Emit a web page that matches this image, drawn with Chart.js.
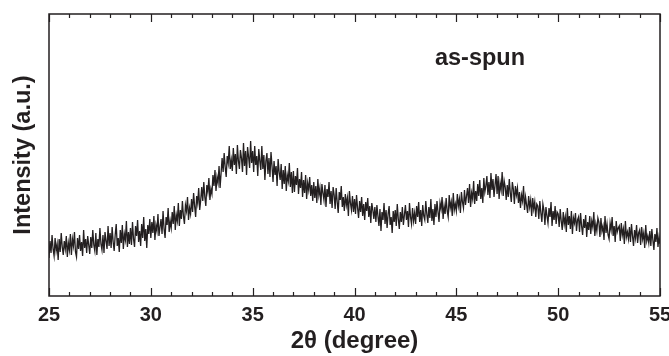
<!DOCTYPE html>
<html>
<head>
<meta charset="utf-8">
<script src="https://cdn.jsdelivr.net/npm/chart.js@4/dist/chart.umd.min.js"></script>
<style>
  html,body{margin:0;padding:0;background:#fff;}
  #wrap{width:669px;height:356px;position:relative;}
</style>
</head>
<body>
<div id="wrap"><canvas id="c" width="669" height="356"></canvas></div>
<script>
// ---- data ----
const scanStartDeg = 25;      // first 2θ of the scan
const scanStepDeg = 0.05;     // scan step
// intensity (a.u.), one row per degree (x.00 .. x.95)
const intensity = [
  38, 55, 43, 61, 47, 40, 58, 45, 52, 36,  57, 44, 63, 49, 41, 55, 47, 60, 39, 53,   // 25
  46, 62, 41, 57, 50, 64, 44, 39, 58, 47,  61, 45, 54, 40, 66, 48, 57, 43, 60, 51,   // 26
  42, 59, 48, 66, 51, 45, 63, 41, 57, 49,  68, 52, 46, 61, 43, 64, 55, 47, 70, 50,   // 27
  63, 48, 69, 54, 45, 61, 72, 50, 58, 44,  66, 53, 71, 47, 62, 56, 75, 49, 64, 52,   // 28
  68, 51, 74, 57, 49, 70, 60, 76, 54, 65,  50, 72, 58, 79, 55, 67, 48, 71, 62, 77,   // 29
  58, 74, 63, 80, 56, 71, 65, 82, 60, 69,  77, 62, 85, 67, 58, 79, 71, 88, 64, 75,   // 30
  68, 84, 72, 90, 66, 81, 75, 93, 70, 86,  77, 95, 80, 72, 91, 85, 99, 76, 88, 82,   // 31
  97, 84,103, 90, 79,100, 93,108, 86, 96, 109, 95,114, 99, 90,111,104,118, 96,107,   // 32
 102,121,110,126,105,119,113,130,108,123, 138,124,143,129,119,140,133,150,127,136,   // 33
 125,148,131,142,122,151,135,127,146,138, 124,153,130,145,121,149,139,128,155,133,   // 34
 145,124,150,131,140,120,147,135,126,150, 127,141,116,135,143,122,138,119,144,130,   // 35
 114,135,121,130,110,137,124,116,132,107, 126,112,130,105,121,115,133,109,124,103,   // 36
 125,104,120,111,128,102,117,108,124, 99, 116,103,121, 97,113,106,119,100,111, 95,   // 37
 114, 98,110, 93,117,101,108, 91,112,103,  96,111, 89,107, 99,114, 92,105, 88,109,   // 38
 101, 87,108, 94, 83,104, 96,110, 89, 99,  85,102, 91, 98, 80,105, 93, 86,100, 84,   // 39
  97, 82,101, 88, 78, 95, 84, 99, 80, 92,  76, 94, 85, 98, 79, 90, 73, 93, 86, 77,   // 40
  89, 74, 91, 80, 70, 87, 65, 84, 76, 93,  72, 86, 68, 82, 90, 71, 79, 63, 85, 74,   // 41
  86, 70, 92, 77, 67, 84, 74, 89, 71, 81,  91, 76, 85, 69, 93, 79, 72, 88, 75, 83,   // 42
  72, 90, 79, 94, 74, 86, 70, 91, 80, 76,  95, 82, 73, 89, 78, 97, 75, 87, 71, 92,   // 43
  79, 95, 84, 74, 93, 87, 99, 77, 90, 82,  98, 85, 79,101, 88, 94, 80,103, 86, 92,   // 44
  85,102, 90, 97, 83,104, 94, 88,106, 91, 100,108, 93,112, 89,103, 97,115, 92,105,   // 45
  95,112,100,116, 97,108, 93,118,104,110, 120,101,114, 98,123,106,117, 99,111,122,   // 46
 102,120, 97,113,106,124,100,115,109, 96, 111, 99,117,103, 94,114,107, 92,110,101,   // 47
 108, 93,104, 88,101, 95,110, 86, 99, 91,  83,100, 89, 96, 80, 98, 87, 94, 79, 92,   // 48
  90, 77, 95, 83, 74, 92, 86, 71, 89, 80,  73, 88, 79, 94, 70, 85, 76, 90, 72, 84,   // 49
  82, 69, 87, 75, 66, 84, 72, 79, 64, 88,  71, 80, 67, 85, 62, 78, 73, 83, 65, 76,   // 50
  79, 64, 83, 70, 61, 77, 68, 81, 59, 74,  66, 80, 62, 75, 69, 84, 60, 72, 65, 78,   // 51
  74, 59, 78, 65, 70, 56, 80, 63, 72, 61,  57, 73, 66, 79, 60, 70, 54, 75, 64, 68,   // 52
  70, 55, 73, 61, 67, 52, 75, 59, 64, 57,  69, 54, 72, 60, 50, 66, 58, 71, 53, 63,   // 53
  66, 51, 69, 57, 63, 48, 71, 55, 60, 53,  65, 50, 67, 56, 46, 62, 54, 68, 49, 59,   // 54
  52                                                                                  // 55
];
const xTickLabels = [25, 30, 35, 40, 45, 50, 55];
const xMinorTicks = [25,26,27,28,29,30,31,32,33,34,35,36,37,38,39,40,41,42,43,44,45,46,47,48,49,50,51,52,53,54,55];
const xTitle = '2\u03B8 (degree)';
const yTitle = 'Intensity (a.u.)';
const sampleLabel = 'as-spun';
const sampleLabelPos = {x: 43.95, y: 231};

// ---- styles ----
const ink = '#231f20';
const fontFamily = '"Liberation Sans", Arial, Helvetica, sans-serif';

const points = intensity.map((v, i) => ({x: +(scanStartDeg + i * scanStepDeg).toFixed(2), y: v}));

const framePlugin = {
  id: 'frame',
  afterDraw(chart) {
    const {ctx, chartArea: {left, right, top, bottom}, scales: {x, y}} = chart;
    ctx.save();
    ctx.strokeStyle = ink;
    ctx.lineWidth = 1.5;
    ctx.strokeRect(left, top, right - left, bottom - top);
    ctx.lineWidth = 1.2;
    xMinorTicks.forEach(v => {
      const px = Math.round(x.getPixelForValue(v)) + 0.5;
      const len = (v % 5 === 0) ? 8 : 4;
      ctx.beginPath();
      ctx.moveTo(px, bottom); ctx.lineTo(px, bottom - len);
      ctx.moveTo(px, top); ctx.lineTo(px, top + len);
      ctx.stroke();
    });
    ctx.fillStyle = ink;
    ctx.font = 'bold 20px ' + fontFamily;
    ctx.textAlign = 'center';
    ctx.textBaseline = 'alphabetic';
    xTickLabels.forEach(v => {
      ctx.fillText(String(v), x.getPixelForValue(v), bottom + 25);
    });
    ctx.font = 'bold 24px ' + fontFamily;
    ctx.fillText(xTitle, (left + right) / 2, bottom + 52);
    ctx.save();
    ctx.font = 'bold 23.5px ' + fontFamily;
    ctx.translate(30, (top + bottom) / 2);
    ctx.rotate(-Math.PI / 2);
    ctx.fillText(yTitle, 0, 0);
    ctx.restore();
    ctx.textAlign = 'left';
    ctx.font = 'bold 23.5px ' + fontFamily;
    ctx.fillText(sampleLabel, x.getPixelForValue(sampleLabelPos.x), y.getPixelForValue(sampleLabelPos.y));
    ctx.restore();
  }
};

new Chart(document.getElementById('c'), {
  type: 'line',
  data: {
    datasets: [{
      data: points,
      borderColor: ink,
      borderWidth: 1.3,
      pointRadius: 0,
      tension: 0,
      fill: false
    }]
  },
  options: {
    responsive: false,
    animation: false,
    layout: {padding: {left: 49, right: 9, top: 14, bottom: 60}},
    plugins: {legend: {display: false}, tooltip: {enabled: false}},
    scales: {
      x: {type: 'linear', min: 25, max: 55, display: false},
      y: {type: 'linear', min: 0, max: 282, display: false}
    }
  },
  plugins: [framePlugin]
});
</script>
</body>
</html>
